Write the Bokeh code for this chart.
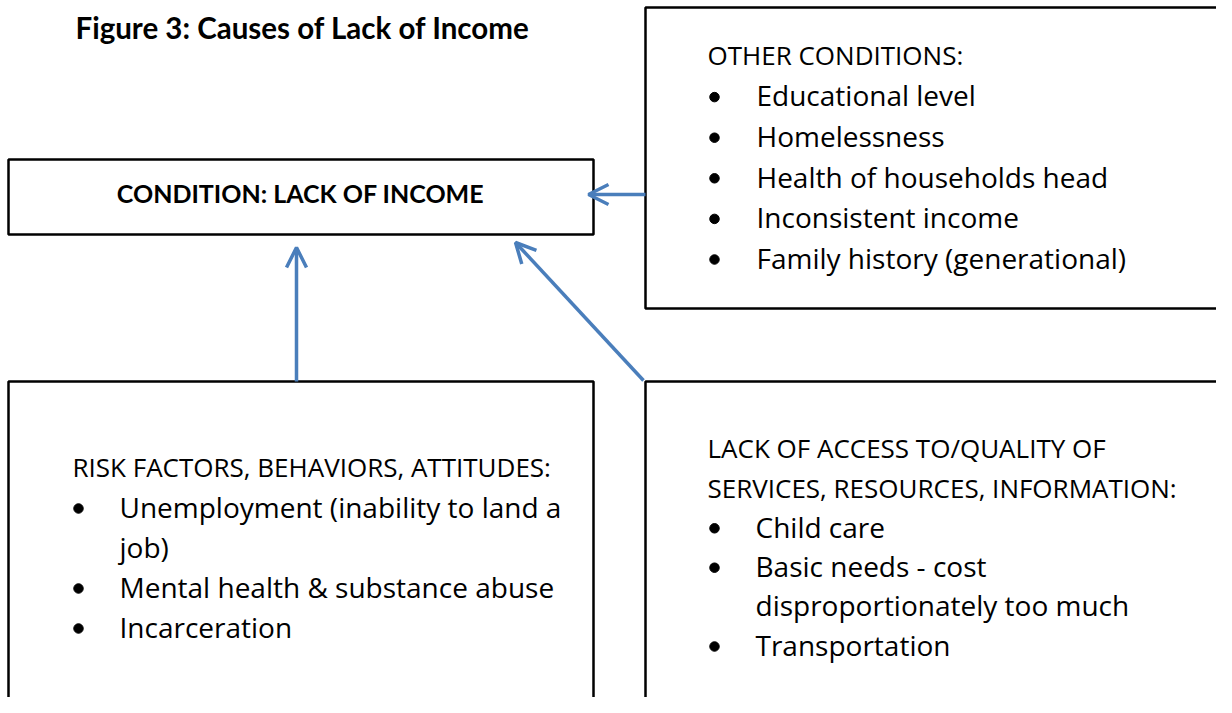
from bokeh.plotting import figure
from bokeh.models import Range1d, Arrow, OpenHead
from bokeh.core.properties import value
from bokeh.embed import file_html
from bokeh.resources import INLINE

# ---------------- content (texts of the diagram) ----------------
title_text = "Figure 3: Causes of Lack of Income"
condition_text = "CONDITION: LACK OF INCOME"

other_header = ["OTHER CONDITIONS:"]
other_items = [["Educational level"], ["Homelessness"], ["Health of households head"],
               ["Inconsistent income"], ["Family history (generational)"]]

risk_header = ["RISK FACTORS, BEHAVIORS, ATTITUDES:"]
risk_items = [["Unemployment (inability to land a", "job)"],
              ["Mental health & substance abuse"], ["Incarceration"]]

access_header = ["LACK OF ACCESS TO/QUALITY OF", "SERVICES, RESOURCES, INFORMATION:"]
access_items = [["Child care"], ["Basic needs - cost", "disproportionately too much"],
                ["Transportation"]]

# ---------------- layout (page coordinates, y downwards) ----------------
W, H = 1216, 697
BOLD_FONT = "Lato"
BODY_FONT = "Open Sans"
HEAD_SIZE = 26.0
ITEM_SIZE = 28.0
BLUE = "#4a7ebb"
DY_TITLE = -12
DY_COND = -10

boxes = {
    "condition": dict(left=8, right=593, top=159, bottom=234),
    "other": dict(left=645, right=1245, top=7, bottom=308),
    "risk": dict(left=8, right=593, top=381, bottom=725),
    "access": dict(left=645, right=1245, top=381, bottom=725),
}

# header x, first baseline, line step, bullet x, item text x
blocks = [
    (other_header, other_items, 707, 65, 40.6, 714, 756),
    (risk_header, risk_items, 72, 477, 40.0, 78, 119),
    (access_header, access_items, 707, 458, 39.4, 714, 755),
]

arrows = [
    (296, 381, 296, 247),
    (645, 194, 588, 194),
    (643, 380, 515, 242),
]

p = figure(width=W, height=H, output_backend="svg", toolbar_location=None,
           x_range=Range1d(0, W), y_range=Range1d(H, 0),
           min_border=0, background_fill_color="white", border_fill_color="white")
p.axis.visible = False
p.grid.visible = False
p.outline_line_color = None

# boxes
p.quad(left=[b["left"] for b in boxes.values()],
       right=[b["right"] for b in boxes.values()],
       top=[b["top"] for b in boxes.values()],
       bottom=[b["bottom"] for b in boxes.values()],
       fill_color=None, line_color="black", line_width=2.5)

# title and condition label
p.text(x=[75], y=[39 + DY_TITLE], text=[title_text], text_font=value(BOLD_FONT),
       text_font_style="bold", text_font_size="29.5px", text_baseline="alphabetic",
       text_align="left", text_color="black")
p.text(x=[300], y=[202 + DY_COND], text=[condition_text], text_font=value(BOLD_FONT),
       text_font_style="bold", text_font_size="25px", text_baseline="alphabetic",
       text_align="center", text_color="black")

# box texts
hx_, hy_, ht_ = [], [], []
ix_, iy_, it_ = [], [], []
bx, by = [], []
for header, items, hx, y0, step, bulx, itx in blocks:
    k = 0
    for line in header:
        hx_.append(hx); hy_.append(y0 + k * step - 0.385 * HEAD_SIZE); ht_.append(line); k += 1
    for item in items:
        for j, line in enumerate(item):
            yy = y0 + k * step
            ix_.append(itx); iy_.append(yy - 0.385 * ITEM_SIZE); it_.append(line)
            if j == 0:
                bx.append(bulx); by.append(yy - 9)
            k += 1

p.text(x=hx_, y=hy_, text=ht_, text_font=value(BODY_FONT), text_font_size=f"{HEAD_SIZE}px",
       text_baseline="alphabetic", text_align="left", text_color="black")
p.text(x=ix_, y=iy_, text=it_, text_font=value(BODY_FONT), text_font_size=f"{ITEM_SIZE}px",
       text_baseline="alphabetic", text_align="left", text_color="black")
p.scatter(x=bx, y=by, marker="circle", size=9.5, color="black")

# arrows
for xs, ys, xe, ye in arrows:
    p.add_layout(Arrow(end=OpenHead(size=20, line_color=BLUE, line_width=3.5),
                       x_start=xs, y_start=ys, x_end=xe, y_end=ye,
                       line_color=BLUE, line_width=3.5))

open("out.html", "w").write(file_html(p, INLINE))
